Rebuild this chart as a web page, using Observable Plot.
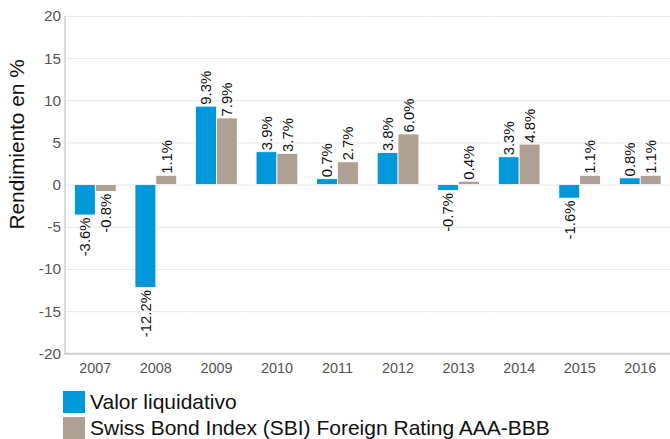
<!DOCTYPE html>
<html>
<head>
<meta charset="utf-8">
<script src="https://cdn.jsdelivr.net/npm/d3@7"></script>
<script src="https://cdn.jsdelivr.net/npm/@observablehq/plot@0.6"></script>
<style>
  html, body { margin: 0; padding: 0; background: #fff; overflow: hidden; width: 670px; height: 439px; }
  #chart { font-family: "Liberation Sans", Arial, sans-serif; }
  .legend { margin-left: 63px; margin-top: 6px; }
  .legend-item { display: flex; align-items: center; height: 22px; margin-bottom: 4px; font-size: 21px; color: #111; white-space: nowrap; }
  .legend-swatch { width: 22px; height: 22px; margin-right: 5px; flex: none; }
</style>
</head>
<body>
<div id="chart"></div>
<script>
const years = ["2007", "2008", "2009", "2010", "2011", "2012", "2013", "2014", "2015", "2016"];
const fundValues = [-3.6, -12.2, 9.3, 3.9, 0.7, 3.8, -0.7, 3.3, -1.6, 0.8];
const indexValues = [-0.8, 1.1, 7.9, 3.7, 2.7, 6.0, 0.4, 4.8, 1.1, 1.1];
const seriesNames = ["Valor liquidativo", "Swiss Bond Index (SBI) Foreign Rating AAA-BBB"];
const seriesColors = ["#0098d8", "#aea092"];
const yTicks = [-20, -15, -10, -5, 0, 5, 10, 15, 20];
const yTitle = "Rendimiento en %";

const data = years.flatMap((year, i) => [
  {year, series: seriesNames[0], value: fundValues[i]},
  {year, series: seriesNames[1], value: indexValues[i]}
]);
const fmt = d => d.value.toFixed(1) + "%";

const chart = Plot.plot({
  width: 675,
  height: 388,
  marginTop: 16,
  marginBottom: 32,
  marginLeft: 65,
  marginRight: 0,
  style: {fontFamily: "'Liberation Sans', Arial, sans-serif", background: "white", overflow: "visible"},
  fx: {domain: years, padding: 0, label: null},
  x: {domain: seriesNames, paddingInner: 0, paddingOuter: 0.45, axis: null},
  y: {domain: [-20, 20], label: null},
  color: {domain: seriesNames, range: seriesColors},
  marks: [
    Plot.ruleY(yTicks, {stroke: "#e8e8e8", strokeWidth: 1}),
    Plot.barY(data, {fx: "year", x: "series", y: "value", fill: "series", stroke: "white", strokeWidth: 0.8}),
    Plot.text(data.filter(d => d.value >= 0), {fx: "year", x: "series", y: "value", text: fmt, rotate: -90, textAnchor: "start", dy: -2, fontSize: 15, fill: "#111"}),
    Plot.text(data.filter(d => d.value < 0), {fx: "year", x: "series", y: "value", text: fmt, rotate: -90, textAnchor: "end", dy: 2, fontSize: 15, fill: "#111"}),
    Plot.ruleY([-20], {stroke: "#d0d0d0", strokeWidth: 2}),
    Plot.frame({anchor: "left", facet: "super", stroke: "#d0d0d0", strokeWidth: 1.5}),
    Plot.axisY({ticks: yTicks, tickFormat: d => String(d), tickSize: 0, tickPadding: 4, fontSize: 15.5, color: "#555", label: null}),
    Plot.axisFx({anchor: "bottom", tickSize: 0, tickPadding: 9, fontSize: 14.5, color: "#555", label: null}),
    Plot.text([yTitle], {fx: [years[0]], frameAnchor: "left", rotate: -90, dx: -48, dy: -41, fontSize: 21, fill: "#111", textAnchor: "middle"})
  ]
});
document.getElementById("chart").appendChild(chart);

const legend = document.createElement("div");
legend.className = "legend";
seriesNames.forEach((name, i) => {
  const item = document.createElement("div");
  item.className = "legend-item";
  const sw = document.createElement("span");
  sw.className = "legend-swatch";
  sw.style.background = seriesColors[i];
  const label = document.createElement("span");
  label.textContent = name;
  item.appendChild(sw);
  item.appendChild(label);
  legend.appendChild(item);
});
document.getElementById("chart").appendChild(legend);
</script>
</body>
</html>
